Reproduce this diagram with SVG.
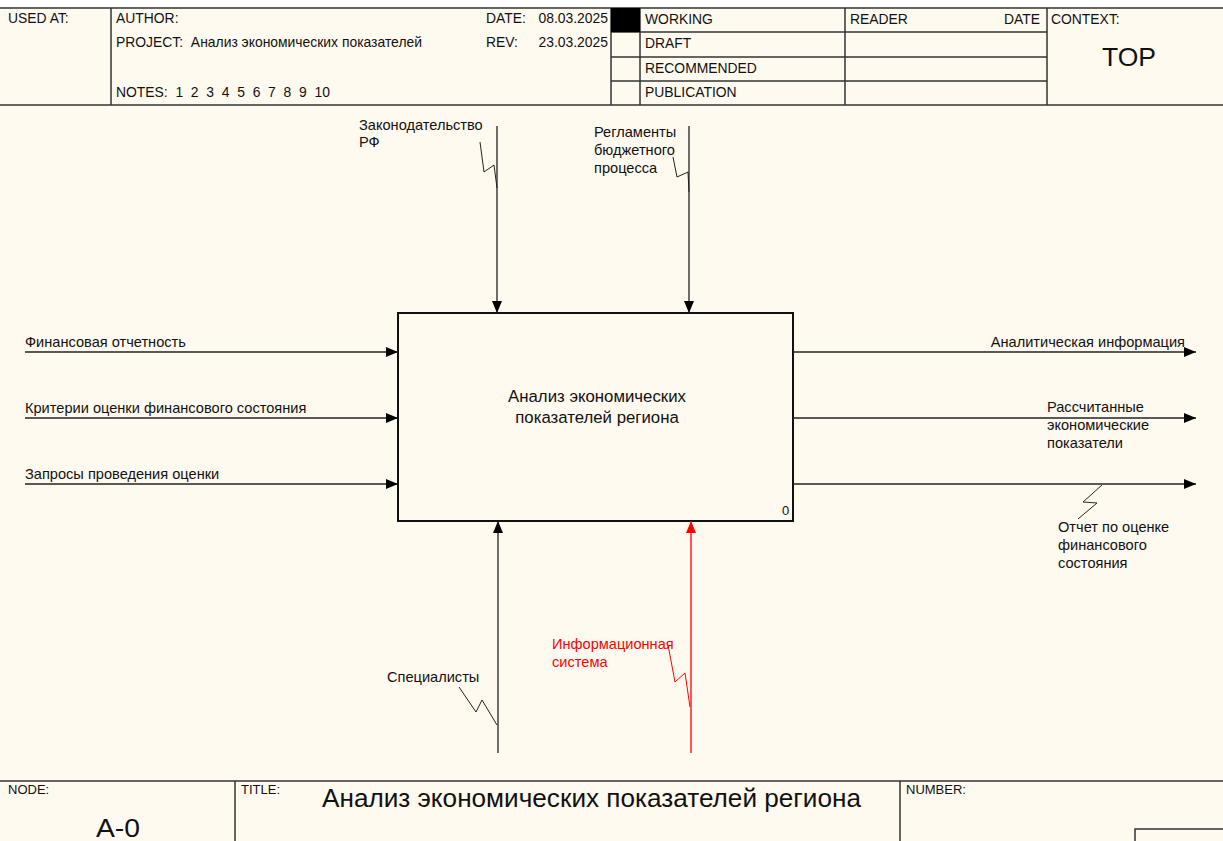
<svg xmlns="http://www.w3.org/2000/svg" width="1223" height="841" viewBox="0 0 1223 841">
<style>
text{font-family:"Liberation Sans",Arial,sans-serif;fill:#111;white-space:pre}
.h{font-size:13.9px}
.f{font-size:13px}
.lbl{font-size:14.6px}
.red{fill:#ff0000}
.frame{stroke:#333;stroke-width:1.5;fill:none}
.ln{stroke:#222;stroke-width:1.3;fill:none}
.sq{stroke:#222;stroke-width:1;fill:none}
.rln{stroke:#ff0000;stroke-width:1.3;fill:none}
.rsq{stroke:#ff0000;stroke-width:1;fill:none}
</style>
<defs>
<marker id="ah" markerWidth="12" markerHeight="10" refX="12" refY="5" orient="auto" markerUnits="userSpaceOnUse">
<path d="M0,0 L12,5 L0,10 Z" fill="#000"/>
</marker>
<marker id="ahr" markerWidth="12" markerHeight="10" refX="12" refY="5" orient="auto" markerUnits="userSpaceOnUse">
<path d="M0,0 L12,5 L0,10 Z" fill="#ff0000"/>
</marker>
</defs>
<rect width="1223" height="841" fill="#ffffff"/>
<rect x="0" y="8" width="1223" height="833" fill="#fffaf0"/>

<g id="header">
<line class="frame" x1="0" y1="8" x2="1223" y2="8"/>
<line class="frame" x1="0" y1="105" x2="1223" y2="105"/>
<line class="frame" x1="111" y1="8" x2="111" y2="105"/>
<line class="frame" x1="611" y1="8" x2="611" y2="105"/>
<line class="frame" x1="640" y1="8" x2="640" y2="105"/>
<line class="frame" x1="845" y1="8" x2="845" y2="105"/>
<line class="frame" x1="1047" y1="8" x2="1047" y2="105"/>
<line class="frame" x1="611" y1="32" x2="1047" y2="32"/>
<line class="frame" x1="611" y1="57" x2="1047" y2="57"/>
<line class="frame" x1="611" y1="81" x2="1047" y2="81"/>
<rect x="611" y="8" width="29" height="24" fill="#000"/>
<text class="h" x="8" y="23">USED AT:</text>
<text class="h" x="116" y="23">AUTHOR:</text>
<text class="h" x="116" y="47">PROJECT:  Анализ экономических показателей</text>
<text class="h" x="116" y="97">NOTES:  1  2  3  4  5  6  7  8  9  10</text>
<text class="h" x="486" y="23">DATE:</text>
<text class="h" x="608" y="23" text-anchor="end">08.03.2025</text>
<text class="h" x="486" y="47">REV:</text>
<text class="h" x="608" y="47" text-anchor="end">23.03.2025</text>
<text class="h" x="645" y="24">WORKING</text>
<text class="h" x="645" y="48">DRAFT</text>
<text class="h" x="645" y="73">RECOMMENDED</text>
<text class="h" x="645" y="97">PUBLICATION</text>
<text class="h" x="850" y="24">READER</text>
<text class="h" x="1040" y="24" text-anchor="end">DATE</text>
<text class="h" x="1051" y="24">CONTEXT:</text>
<text x="1129" y="66" text-anchor="middle" font-size="26.5">TOP</text>
</g>

<g id="node-A0">
<rect x="398" y="313" width="395" height="208" fill="none" stroke="#111" stroke-width="2"/>
<text x="597" y="402" text-anchor="middle" font-size="16.8">Анализ экономических</text>
<text x="597" y="423" text-anchor="middle" font-size="16.8">показателей региона</text>
<text x="782" y="515" font-size="13">0</text>
</g>

<g id="connectors">
<!-- controls -->
<line class="ln" x1="497" y1="126" x2="497" y2="313" marker-end="url(#ah)"/>
<polyline class="sq" points="480,142 484,172 494,165 497,188"/>
<text class="lbl" x="359" y="130">Законодательство</text>
<text class="lbl" x="359" y="147">РФ</text>

<line class="ln" x1="689" y1="126" x2="689" y2="313" marker-end="url(#ah)"/>
<polyline class="sq" points="673,157 677,177 688,172 689,192"/>
<text class="lbl" x="594" y="137">Регламенты</text>
<text class="lbl" x="594" y="155">бюджетного</text>
<text class="lbl" x="594" y="173">процесса</text>

<!-- inputs -->
<line class="ln" x1="25" y1="352" x2="398" y2="352" marker-end="url(#ah)"/>
<text class="lbl" x="25" y="347">Финансовая отчетность</text>
<line class="ln" x1="25" y1="418" x2="398" y2="418" marker-end="url(#ah)"/>
<text class="lbl" x="25" y="413">Критерии оценки финансового состояния</text>
<line class="ln" x1="25" y1="484" x2="398" y2="484" marker-end="url(#ah)"/>
<text class="lbl" x="25" y="479">Запросы проведения оценки</text>

<!-- outputs -->
<line class="ln" x1="793" y1="352" x2="1196" y2="352" marker-end="url(#ah)"/>
<text class="lbl" x="1185" y="347" text-anchor="end">Аналитическая информация</text>
<line class="ln" x1="793" y1="418" x2="1196" y2="418" marker-end="url(#ah)"/>
<text class="lbl" x="1047" y="412">Рассчитанные</text>
<text class="lbl" x="1047" y="430">экономические</text>
<text class="lbl" x="1047" y="448">показатели</text>
<line class="ln" x1="793" y1="484" x2="1196" y2="484" marker-end="url(#ah)"/>
<polyline class="sq" points="1102,485 1083,502 1097,503 1078,519"/>
<text class="lbl" x="1058" y="532">Отчет по оценке</text>
<text class="lbl" x="1058" y="550">финансового</text>
<text class="lbl" x="1058" y="568">состояния</text>

<!-- mechanisms -->
<line class="ln" x1="498" y1="753" x2="498" y2="521" marker-end="url(#ah)" stroke="#555"/>
<polyline class="sq" points="459,687 476,712 482,700 497,725"/>
<text class="lbl" x="387" y="682">Специалисты</text>

<line class="rln" x1="691" y1="753" x2="691" y2="521" marker-end="url(#ahr)"/>
<polyline class="rsq" points="668,645 675,682 685,673 690,707"/>
<text class="lbl red" x="552" y="649">Информационная</text>
<text class="lbl red" x="552" y="667">система</text>
</g>

<g id="footer">
<line class="frame" x1="0" y1="781" x2="1223" y2="781"/>
<line class="frame" x1="235" y1="781" x2="235" y2="841"/>
<line class="frame" x1="900" y1="781" x2="900" y2="841"/>
<polyline class="frame" points="1135,841 1135,829 1223,829"/>
<text class="f" x="8" y="794">NODE:</text>
<text class="f" x="241" y="794">TITLE:</text>
<text class="f" x="906" y="794">NUMBER:</text>
<text x="96" y="837" font-size="25" textLength="44" lengthAdjust="spacingAndGlyphs">A-0</text>
<text x="322" y="807" font-size="25" textLength="539" lengthAdjust="spacingAndGlyphs">Анализ экономических показателей региона</text>
</g>
</svg>
